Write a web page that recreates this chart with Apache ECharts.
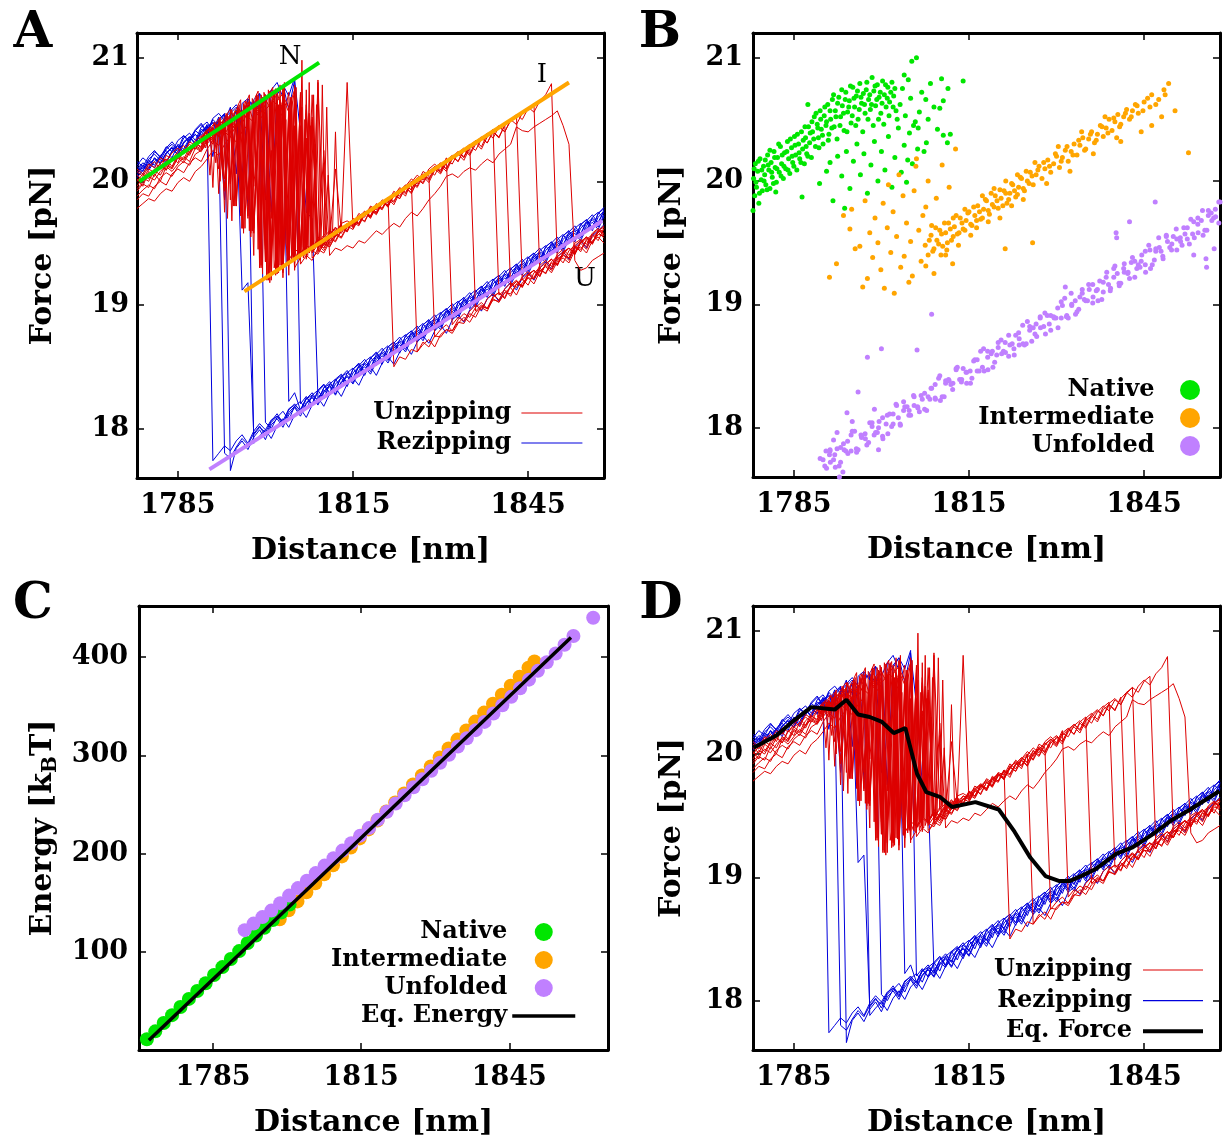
<!DOCTYPE html>
<html><head><meta charset="utf-8">
<script src="https://cdn.jsdelivr.net/npm/echarts@6/dist/echarts.min.js"></script>
<style>html,body{margin:0;padding:0;background:#fff}#c{width:1224px;height:1141px}</style>
</head><body><div id="c"></div>
<script>
// ---------- DATA ----------
const distGrid = [1778,1779,1780,1781,1782,1783,1784,1785,1786,1787,1788,1789,1790,1791,1792,1793,1794,1795,1796,1797,1798,1799,1800,1801,1802,1803,1804,1805,1806,1807,1808,1809,1810,1811,1812,1813,1814,1815,1816,1817,1818,1819,1820,1821,1822,1823,1824,1825,1826,1827,1828,1829,1830,1831,1832,1833,1834,1835,1836,1837,1838,1839,1840,1841,1842,1843,1844,1845,1846,1847,1848,1849,1850,1851,1852,1853,1854,1855,1856,1857,1858];
const hopGridA = [1789,1789.5,1790,1790.5,1791,1791.5,1792,1792.5,1793,1793.5,1794,1794.5,1795,1795.5,1796,1796.5,1797,1797.5,1798,1798.5,1799,1799.5,1800,1800.5,1801,1801.5,1802,1802.5,1803,1803.5,1804,1804.5,1805,1805.5,1806,1806.5,1807,1807.5,1808,1808.5,1809,1809.5,1810,1810.5,1811,1811.5,1812,1812.5,1813];
const hopGridB = [1789.25,1789.75,1790.25,1790.75,1791.25,1791.75,1792.25,1792.75,1793.25,1793.75,1794.25,1794.75,1795.25,1795.75,1796.25,1796.75,1797.25,1797.75,1798.25,1798.75,1799.25,1799.75,1800.25,1800.75,1801.25,1801.75,1802.25,1802.75,1803.25,1803.75,1804.25,1804.75,1805.25,1805.75,1806.25,1806.75,1807.25,1807.75,1808.25,1808.75,1809.25,1809.75,1810.25,1810.75,1811.25,1811.75,1812.25,1812.75,1813.25];
const xTicks = [1785,1815,1845];
const forceTicks = [18,19,20,21];
const energyTicks = [100,200,300,400];

// unzipping (red) traces, force [pN] on distGrid
const unzip01 = [20.02,19.96,20.08,20.04,20.13,20.09,20.19,20.15,20.26,20.21,20.31,20.27,20.38,20.30,20.45,19.95,20.49,20.40,19.75,20.55,19.62,20.60,19.35,20.25,19.30,20.70,19.36,19.45,19.42,19.48,19.44,19.53,19.50,19.58,19.55,19.63,19.60,19.70,19.66,19.75,19.72,19.81,19.78,19.87,18.50,18.58,18.56,18.64,18.62,18.70,18.66,18.75,18.74,18.80,18.79,18.86,18.85,18.93,18.90,18.99,18.97,19.04,19.03,19.10,19.09,19.17,19.15,19.22,19.21,19.28,19.26,19.34,19.33,19.40,19.38,19.46,19.45,19.52,19.50,19.57,19.56];
const unzip02 = [19.92,19.98,19.95,20.06,20.00,20.12,20.08,20.14,20.20,20.16,20.27,20.24,20.33,20.41,20.36,20.44,20.05,20.47,20.52,19.85,20.57,20.60,19.55,20.66,20.62,19.28,20.45,20.74,19.40,20.30,19.45,19.52,19.48,19.57,19.62,19.58,19.66,19.64,19.72,19.75,19.70,19.80,19.84,19.79,19.90,19.93,19.88,20.00,18.62,18.68,18.72,18.66,18.76,18.80,18.77,18.85,18.90,18.86,18.94,18.98,18.95,19.05,19.02,19.10,19.14,19.08,19.18,19.22,19.17,19.27,19.31,19.26,19.35,19.38,19.34,19.44,19.47,19.42,19.52,19.55,19.50];
const unzip03 = [20.05,20.01,20.10,20.07,20.15,20.18,20.12,20.22,20.25,20.30,20.26,20.35,20.40,20.34,20.46,20.50,20.41,19.88,20.56,20.50,19.58,20.63,20.68,19.20,20.72,20.55,19.32,20.78,19.45,20.62,19.50,20.80,19.55,19.60,19.57,19.66,19.68,19.65,19.74,19.71,19.80,19.77,19.85,19.83,19.92,19.88,19.96,20.02,19.98,20.08,20.05,18.74,18.80,18.84,18.79,18.88,18.93,18.90,18.98,19.02,18.97,19.07,19.10,19.06,19.16,19.20,19.15,19.25,19.28,19.24,19.33,19.37,19.32,19.43,19.46,19.41,19.50,19.54,19.49,19.59,19.61];
const unzip04 = [19.96,20.03,20.00,20.09,20.05,20.14,20.11,20.20,20.17,20.24,20.29,20.26,20.35,20.43,20.39,19.92,20.47,20.53,20.44,19.70,20.58,20.52,19.45,20.64,19.25,20.69,20.60,19.38,20.66,19.42,20.50,19.48,19.44,19.52,20.10,19.60,20.80,19.62,19.70,19.68,19.77,19.74,19.83,19.80,19.88,19.95,19.91,19.99,20.05,20.01,20.10,20.14,20.09,20.19,18.84,18.90,18.87,18.95,19.00,18.96,19.05,19.09,19.04,19.13,19.18,19.14,19.23,19.27,19.22,19.32,19.36,19.31,19.41,19.45,19.40,19.50,19.53,19.49,19.58,19.62,19.57];
const unzip05 = [20.08,20.04,20.12,20.16,20.10,20.21,20.18,20.24,20.29,20.23,20.33,20.37,20.31,20.44,20.10,20.48,20.54,19.80,20.57,20.62,20.48,19.50,20.66,20.58,19.30,20.75,19.35,20.40,19.40,19.47,20.70,19.50,19.46,19.55,19.52,19.61,19.66,19.63,19.71,19.76,19.72,19.82,19.78,19.87,19.84,19.92,19.97,19.93,20.03,19.99,20.08,20.12,20.07,20.17,20.21,20.16,20.26,20.30,18.95,19.00,18.97,19.06,19.10,19.05,19.15,19.19,19.14,19.24,19.28,19.23,19.33,19.37,19.32,19.42,19.46,19.41,19.51,19.55,19.50,19.60,19.63];
const unzip06 = [19.88,19.93,19.97,19.94,20.03,20.07,20.04,20.12,20.16,20.13,20.22,20.25,20.30,20.37,20.42,20.38,20.46,20.42,19.95,20.53,19.68,20.59,20.55,19.40,20.62,19.22,20.50,19.30,19.38,20.35,19.42,19.49,19.46,19.54,19.51,19.60,19.63,19.69,19.66,19.74,19.79,19.75,19.84,19.81,19.90,19.86,19.95,20.00,19.96,20.06,20.02,20.11,20.15,20.10,20.20,20.24,20.19,20.29,20.33,20.28,20.38,20.42,19.08,19.12,19.07,19.17,19.21,19.16,19.26,19.30,19.25,19.35,19.39,19.34,19.44,19.48,19.43,19.53,19.57,19.52,19.62];
const unzip07 = [20.10,20.06,20.14,20.11,20.19,20.16,20.23,20.27,20.22,20.32,20.29,20.36,20.42,20.38,20.47,20.02,20.50,20.45,20.55,19.72,20.60,20.56,19.48,20.64,20.70,19.26,20.58,19.34,20.68,19.40,19.36,19.46,19.50,19.47,19.56,19.62,19.59,19.68,19.72,19.67,19.77,19.73,19.82,19.86,19.81,19.91,19.95,19.90,20.00,20.04,19.99,20.09,20.13,20.08,20.18,20.22,20.17,20.27,20.31,20.26,20.36,20.40,20.35,20.46,19.14,19.19,19.15,19.24,19.28,19.23,19.33,19.37,19.32,19.42,19.46,19.41,19.51,19.55,19.50,19.60,19.58];
const unzip08 = [19.85,19.90,19.88,19.96,20.00,19.97,20.06,20.10,20.07,20.15,20.19,20.16,20.26,20.33,20.29,20.40,20.36,20.46,20.00,20.52,20.48,19.60,20.58,20.63,19.35,20.67,20.56,19.28,20.72,19.37,20.48,19.43,19.52,19.49,19.58,19.55,19.64,19.61,19.70,19.75,19.71,19.80,19.77,19.86,19.83,19.92,19.97,19.93,20.02,19.98,20.07,20.12,20.08,20.17,20.14,20.23,20.27,20.22,20.32,20.36,20.31,20.41,20.45,20.40,20.50,20.54,19.20,19.25,19.21,19.30,19.34,19.29,19.39,19.43,19.38,19.48,19.52,19.47,19.57,19.61,19.56];
const unzip09 = [20.00,20.06,20.02,20.10,20.14,20.09,20.18,20.22,20.18,20.27,20.31,20.28,20.37,20.33,20.42,20.48,19.98,20.51,20.47,20.56,19.66,20.61,20.57,19.42,20.65,20.71,19.24,20.62,19.33,19.40,20.52,19.45,19.42,19.51,19.57,19.54,19.63,19.67,19.64,19.73,19.78,19.74,19.83,19.80,19.89,19.94,19.90,19.99,19.95,20.04,20.09,20.05,20.14,20.10,20.19,20.24,20.20,20.29,20.25,20.34,20.39,20.35,20.44,20.40,20.49,20.54,20.50,20.59,20.63,19.27,19.32,19.28,19.37,19.41,19.36,19.46,19.50,19.45,19.55,19.59,19.54];
const unzip10 = [19.94,19.99,20.04,20.01,20.08,20.13,20.10,20.19,20.15,20.23,20.28,20.25,20.34,20.40,20.37,20.45,20.50,20.43,20.53,19.90,20.58,20.54,20.62,19.50,20.66,19.32,20.60,20.74,19.36,20.55,19.44,19.41,19.50,19.47,19.56,19.63,19.60,19.69,19.65,19.74,19.71,19.79,19.84,19.80,19.89,19.86,19.95,19.91,20.00,20.05,20.01,20.10,20.06,20.15,20.20,20.16,20.25,20.21,20.30,20.35,20.31,20.40,20.36,20.45,20.50,20.46,20.55,20.60,20.56,20.65,20.70,20.79,19.36,19.41,19.46,19.42,19.51,19.55,19.50,19.60,19.64];
const unzip11 = [19.78,19.82,19.86,19.84,19.90,19.94,19.92,19.99,20.03,20.00,20.08,20.12,20.18,20.25,20.21,20.30,20.36,20.32,20.40,20.46,19.96,20.50,20.56,19.70,20.60,20.52,19.45,20.65,19.40,20.58,19.38,19.43,20.25,19.40,19.46,19.44,19.48,19.46,19.52,19.50,19.55,19.60,19.57,19.62,19.66,19.63,19.70,19.75,19.72,19.78,19.85,19.90,19.96,20.04,20.06,20.03,20.08,20.11,20.09,20.14,20.18,20.15,20.22,20.26,20.30,20.44,20.41,20.40,20.44,20.47,20.50,20.53,20.57,20.45,20.30,19.36,19.28,19.30,19.36,19.39,19.42];

// finely sampled unzipping hopping segments, force [pN]; hop01-03 on hopGridA, hop04-06 on hopGridB
const hop01 = [20.30,20.38,20.34,20.05,20.42,20.40,19.90,20.45,20.48,19.70,20.52,20.35,19.80,20.58,20.55,19.62,20.60,20.10,19.40,20.66,20.62,19.25,20.70,19.80,19.28,20.72,20.40,19.32,20.76,19.50,19.35,20.68,19.38,20.20,19.40,19.45,20.74,19.42,19.50,20.30,19.47,19.52,19.55,20.60,19.53,19.58,19.56,19.62,19.60];
const hop02 = [20.36,20.32,20.41,20.44,19.95,20.47,20.50,20.42,19.75,20.55,20.58,19.80,20.40,20.62,19.62,20.65,20.58,19.55,20.50,20.70,19.38,20.68,19.35,20.74,20.60,19.30,19.45,20.78,19.36,20.50,19.40,20.65,19.44,19.38,20.45,19.47,19.43,20.80,19.50,19.48,19.55,19.52,20.15,19.57,19.55,19.60,19.63,19.59,19.66];
const hop03 = [20.28,20.35,20.31,20.40,20.37,20.15,20.45,20.48,20.40,20.52,19.85,20.55,20.57,20.50,19.62,20.60,20.64,19.58,20.58,20.67,19.30,20.62,20.70,19.20,20.55,20.74,19.28,20.66,19.33,20.60,20.72,19.36,20.45,19.40,20.70,19.38,19.46,20.55,19.44,19.50,20.82,19.52,19.49,19.56,19.54,19.60,20.40,19.62,19.65];
const hop04 = [20.34,20.40,20.36,20.44,20.47,20.41,20.00,20.50,20.53,20.46,19.68,20.57,20.60,19.75,20.63,20.55,19.60,20.67,20.60,19.45,20.70,20.10,19.22,20.73,20.65,19.30,20.58,19.35,20.77,19.40,20.35,19.38,20.62,19.45,19.41,20.50,19.48,19.46,20.70,19.52,19.49,19.55,19.58,20.05,19.57,19.61,19.59,19.64,19.62];
const hop05 = [20.31,20.27,20.38,20.42,20.36,20.46,20.40,20.49,19.95,20.52,20.56,20.48,20.59,19.72,20.62,20.57,20.66,19.60,20.60,20.69,19.32,20.72,20.64,19.18,20.68,20.75,19.26,20.62,20.70,19.34,20.55,19.40,20.76,19.37,20.60,19.43,19.40,20.45,19.47,19.52,19.48,20.78,19.53,19.56,19.54,19.59,19.62,19.58,19.64];
const hop06 = [20.38,20.33,20.43,20.39,20.48,20.44,20.52,20.10,20.55,20.50,20.58,19.80,20.61,20.66,19.58,20.64,20.70,19.60,20.68,20.73,19.30,20.66,19.20,20.71,20.76,19.24,20.62,19.31,20.80,19.35,20.68,19.39,20.52,19.42,20.98,19.45,20.40,19.47,19.44,20.62,19.50,19.47,19.55,19.52,19.58,19.56,19.61,19.59,19.64];

// rezipping (blue) traces, force [pN] on distGrid
const rezip01 = [20.10,20.06,20.14,20.18,20.15,20.23,20.27,20.22,20.32,20.36,20.31,20.42,20.40,17.74,17.80,17.86,17.82,17.90,17.95,17.88,17.98,18.04,17.99,18.07,18.10,18.06,18.16,18.19,18.15,18.24,18.27,18.23,18.33,18.36,18.32,18.42,18.45,18.41,18.50,18.53,18.49,18.58,18.62,18.59,18.67,18.71,18.68,18.76,18.80,18.77,18.85,18.89,18.86,18.94,18.98,18.95,19.03,19.07,19.04,19.12,19.16,19.13,19.21,19.25,19.22,19.30,19.34,19.31,19.39,19.43,19.40,19.48,19.52,19.49,19.57,19.61,19.58,19.66,19.70,19.67,19.75];
const rezip02 = [20.05,20.12,20.09,20.16,20.20,20.14,20.25,20.29,20.24,20.34,20.38,20.33,20.44,20.48,20.40,17.80,17.76,17.85,17.92,17.87,17.96,18.02,17.94,18.05,18.10,18.03,18.13,18.18,18.12,18.21,18.26,18.20,18.30,18.35,18.28,18.38,18.43,18.37,18.47,18.52,18.46,18.56,18.61,18.55,18.65,18.70,18.64,18.74,18.79,18.73,18.83,18.88,18.82,18.92,18.97,18.91,19.01,19.06,19.00,19.10,19.15,19.09,19.19,19.24,19.18,19.28,19.33,19.27,19.37,19.42,19.36,19.46,19.51,19.45,19.55,19.60,19.54,19.64,19.69,19.63,19.73];
const rezip03 = [20.12,20.08,20.17,20.13,20.21,20.25,20.19,20.30,20.26,20.35,20.41,20.37,20.46,20.20,20.50,20.55,17.66,17.84,17.90,17.83,17.93,17.99,17.91,18.03,18.08,18.01,18.11,18.17,18.10,18.20,18.25,18.19,18.29,18.34,18.27,18.37,18.42,18.36,18.46,18.50,18.44,18.54,18.59,18.53,18.63,18.68,18.62,18.72,18.77,18.71,18.81,18.86,18.80,18.90,18.95,18.89,18.99,19.04,18.98,19.08,19.13,19.07,19.17,19.22,19.16,19.26,19.31,19.25,19.35,19.40,19.34,19.44,19.49,19.43,19.53,19.58,19.52,19.62,19.67,19.61,19.72];
const rezip04 = [20.07,20.13,20.10,20.19,20.15,20.22,20.28,20.24,20.31,20.36,20.30,20.40,20.45,20.39,20.50,20.54,20.47,20.58,19.12,19.18,17.95,18.01,17.97,18.06,18.12,18.04,18.15,18.20,18.14,18.24,18.29,18.22,18.33,18.38,18.31,18.42,18.47,18.40,18.51,18.56,18.49,18.60,18.65,18.58,18.69,18.74,18.67,18.78,18.83,18.76,18.87,18.92,18.85,18.96,19.01,18.94,19.05,19.10,19.03,19.14,19.19,19.12,19.23,19.28,19.21,19.32,19.37,19.30,19.41,19.46,19.39,19.50,19.55,19.48,19.59,19.64,19.57,19.68,19.73,19.66,19.77];
const rezip05 = [20.14,20.10,20.18,20.22,20.17,20.26,20.30,20.25,20.35,20.39,20.33,20.44,20.48,20.41,20.52,19.85,20.55,20.60,20.52,20.66,17.88,17.94,17.99,17.92,18.02,18.08,18.01,18.11,18.16,18.09,18.19,18.25,18.18,18.28,18.33,18.26,18.36,18.41,18.35,18.45,18.50,18.43,18.53,18.58,18.52,18.62,18.67,18.60,18.70,18.75,18.69,18.79,18.84,18.77,18.88,18.92,18.86,18.96,19.01,18.95,19.05,19.09,19.03,19.13,19.18,19.12,19.22,19.26,19.20,19.30,19.35,19.29,19.39,19.43,19.37,19.47,19.52,19.46,19.56,19.60,19.65];
const rezip06 = [20.03,20.09,20.15,20.11,20.20,20.16,20.24,20.29,20.23,20.33,20.38,20.32,20.43,20.47,20.40,20.51,20.56,20.49,20.05,20.60,20.64,20.58,18.05,18.00,18.09,18.14,18.07,18.18,18.22,18.15,18.27,18.31,18.24,18.36,18.40,18.33,18.45,18.49,18.42,18.54,18.58,18.51,18.63,18.67,18.60,18.72,18.76,18.69,18.81,18.85,18.78,18.90,18.94,18.87,18.99,19.03,18.96,19.08,19.12,19.05,19.17,19.21,19.14,19.26,19.30,19.23,19.35,19.39,19.32,19.44,19.48,19.41,19.53,19.57,19.50,19.62,19.66,19.59,19.71,19.75,19.70];
const rezip07 = [20.16,20.12,20.20,20.25,20.19,20.28,20.24,20.33,20.37,20.31,20.41,20.46,20.39,20.50,20.45,19.95,20.57,20.62,20.55,19.80,20.66,20.71,20.63,20.74,20.80,20.68,18.22,18.29,18.15,18.25,18.20,18.31,18.36,18.29,18.40,18.44,18.37,18.48,18.53,18.46,18.57,18.62,18.55,18.66,18.70,18.63,18.75,18.79,18.72,18.84,18.88,18.81,18.93,18.97,18.90,19.02,19.06,18.99,19.11,19.15,19.08,19.20,19.24,19.17,19.29,19.33,19.26,19.38,19.42,19.35,19.47,19.51,19.44,19.56,19.60,19.53,19.65,19.69,19.62,19.74,19.78];
const rezip08 = [20.09,20.15,20.11,20.19,20.14,20.23,20.27,20.21,20.31,20.36,20.30,20.40,20.44,20.38,20.48,20.53,20.46,20.57,19.90,20.61,20.65,20.58,20.70,19.75,20.72,20.78,20.69,20.84,18.20,18.26,18.19,18.30,18.35,18.28,18.39,18.43,18.36,18.48,18.52,18.45,18.57,18.61,18.54,18.66,18.70,18.63,18.75,18.79,18.72,18.84,18.88,18.81,18.93,18.97,18.90,19.02,19.06,18.99,19.11,19.15,19.08,19.20,19.24,19.17,19.29,19.33,19.26,19.38,19.42,19.35,19.47,19.51,19.44,19.56,19.60,19.53,19.65,19.69,19.62,19.74,19.79];
const rezip09 = [20.13,20.19,20.15,20.24,20.20,20.27,20.32,20.26,20.37,20.33,20.42,20.47,20.40,20.51,20.55,20.49,20.60,20.06,20.63,20.67,20.60,20.71,19.85,20.74,20.70,20.78,20.58,20.82,20.40,19.75,19.70,18.25,18.31,18.27,18.36,18.41,18.34,18.45,18.50,18.43,18.54,18.59,18.52,18.63,18.68,18.61,18.72,18.77,18.70,18.81,18.86,18.79,18.90,18.95,18.88,18.99,19.04,18.97,19.08,19.13,19.06,19.17,19.22,19.15,19.26,19.31,19.24,19.35,19.40,19.33,19.44,19.49,19.42,19.53,19.58,19.51,19.62,19.67,19.60,19.71,19.76];

// fitted branches in panel A (distance, force)
const nativeFitX = [1778.4, 1809.2], nativeFitF = [20.00, 20.96];
const interFitX  = [1796.4, 1852.0], interFitF  = [19.11, 20.80];
const unfoldFitX = [1790.4, 1857.7], unfoldFitF = [17.67, 19.68];

// panel B classified points [distance, force]
const nativePts = [[1778.1,20.02],[1778.3,19.88],[1778.4,20.14],[1778.6,19.95],[1778.8,20.08],[1779.0,19.82],[1779.2,20.18],[1779.4,20.01],[1779.6,19.92],[1779.8,20.12],[1780.0,20.05],[1780.2,19.97],[1780.5,20.21],[1780.7,20.09],[1780.9,19.94],[1781.1,20.15],[1781.3,20.03],[1781.6,20.24],[1781.8,20.11],[1782.0,19.99],[1782.2,20.19],[1782.5,20.07],[1782.7,20.28],[1782.9,20.14],[1783.2,20.02],[1783.4,20.23],[1783.6,20.10],[1783.9,20.32],[1784.1,20.18],[1784.3,20.06],[1784.6,20.27],[1784.8,20.15],[1785.1,20.36],[1785.3,20.21],[1785.5,20.09],[1785.8,20.30],[1786.0,20.18],[1786.3,20.40],[1786.5,20.26],[1786.8,20.14],[1787.0,20.35],[1787.2,20.22],[1787.5,20.44],[1787.7,20.31],[1788.0,20.19],
[1788.2,20.40],[1788.5,20.52],[1788.7,20.28],[1789.0,20.46],[1789.2,20.35],[1789.5,20.57],[1789.7,20.42],[1790.0,20.30],[1790.2,20.53],[1790.5,20.45],[1790.8,20.62],[1791.0,20.38],[1791.3,20.50],[1791.6,20.66],[1791.9,20.44],[1792.1,20.57],[1792.4,20.34],[1792.7,20.68],[1793.0,20.52],[1793.3,20.61],[1793.6,20.41],[1793.9,20.72],[1794.2,20.56],[1794.5,20.65],[1794.8,20.47],[1795.1,20.76],[1795.4,20.60],[1795.7,20.69],[1796.0,20.50],[1796.3,20.79],[1796.6,20.63],[1796.9,20.71],[1797.2,20.55],[1797.5,20.80],[1797.8,20.66],[1798.1,20.58],[1798.4,20.84],[1798.7,20.73],[1799.0,20.61],[1799.3,20.78],[1799.6,20.68],[1799.9,20.55],[1800.2,20.81],[1800.5,20.70],[1800.8,20.60],[1801.1,20.76],[1801.4,20.64],[1801.8,20.80],[1802.1,20.69],[1802.5,20.57],
[1778.2,20.10],[1778.5,19.99],[1778.9,20.16],[1779.1,19.90],[1779.5,20.09],[1779.9,20.00],[1780.1,20.17],[1780.4,19.93],[1780.6,20.13],[1780.9,20.25],[1781.2,20.07],[1781.5,19.98],[1781.7,20.19],[1782.1,20.10],[1782.4,20.30],[1782.8,20.04],[1783.0,20.21],[1783.3,20.12],[1783.8,20.24],[1784.0,20.09],[1784.4,20.34],[1784.7,20.20],[1785.0,20.12],[1785.2,20.29],[1785.6,20.38],[1785.9,20.23],[1786.2,20.15],[1786.6,20.33],[1786.9,20.44],[1787.1,20.28],[1787.4,20.20],[1787.8,20.39],[1788.1,20.48],[1788.4,20.34],[1788.8,20.55],[1789.1,20.43],[1789.3,20.27],[1789.6,20.50],[1789.9,20.37],[1790.3,20.60],[1790.6,20.48],[1790.9,20.33],[1791.2,20.57],[1791.5,20.43],[1791.8,20.70],[1792.2,20.52],[1792.5,20.63],[1792.9,20.45],[1793.2,20.74],[1793.5,20.55],[1793.8,20.66],[1794.1,20.40],[1794.4,20.60],[1794.7,20.77],[1795.0,20.53],[1795.3,20.67],[1795.6,20.45],[1795.9,20.73],[1796.2,20.58],[1796.5,20.68],[1796.8,20.40],[1797.1,20.62],[1797.4,20.74],[1797.7,20.50],[1798.0,20.70],[1798.3,20.62],[1798.6,20.45],[1798.9,20.77],[1799.2,20.66],[1799.5,20.50],[1799.8,20.72],[1800.1,20.63],[1800.4,20.46],[1800.7,20.78],[1801.0,20.67],[1801.3,20.53],[1801.6,20.72],[1802.0,20.60],[1802.3,20.75],[1802.7,20.50],
[1786.4,19.87],[1787.4,20.62],[1781.9,19.91],[1778.0,19.76],[1789.4,19.98],[1790.6,20.08],[1791.2,20.15],[1791.7,19.84],[1792.5,20.20],[1793.2,20.04],[1793.7,19.78],[1794.0,20.24],[1794.6,19.94],[1795.2,20.16],[1795.8,20.30],[1796.4,20.05],[1797.0,20.22],[1797.6,19.90],[1798.2,20.13],[1798.8,20.32],[1799.4,20.00],[1800.0,20.24],[1800.6,20.09],[1801.2,20.36],[1801.8,19.95],[1802.3,20.19],[1802.9,20.43],[1803.4,20.07],[1803.9,20.29],[1804.3,19.99],[1804.5,20.17],[1804.8,20.39],[1805.3,20.14],[1805.8,20.48],[1806.2,20.26],[1807.3,20.24],[1807.7,20.31],
[1803.2,20.62],[1803.6,20.75],[1803.9,20.86],[1804.1,20.53],[1804.6,20.82],[1805.0,20.67],[1805.2,20.97],[1805.5,20.45],[1806.0,21.00],[1806.3,20.43],[1806.5,20.56],[1806.9,20.72],[1807.6,20.66],[1808.0,20.50],[1808.4,20.79],[1809.0,20.60],[1810.0,20.59],[1810.3,20.83],[1810.6,20.65],[1810.6,20.37],[1811.3,20.31],[1811.4,20.75],[1811.8,20.38],[1814.0,20.81],[1809.6,20.42]];
const interPts = [[1791.1,19.22],[1792.3,19.33],[1793.5,19.72],[1794.6,19.61],[1794.9,19.77],[1795.5,19.45],[1796.3,19.47],[1796.8,19.14],[1797.2,19.84],[1797.6,19.21],[1798.0,19.58],[1798.5,19.38],[1798.9,19.70],[1799.4,19.50],[1799.9,19.28],[1800.3,19.82],[1800.5,19.13],[1801.0,19.62],[1801.2,19.97],[1801.6,19.42],[1802.0,19.75],[1802.2,19.09],[1802.6,19.55],[1803.0,20.05],[1803.3,19.30],[1803.7,19.88],[1803.9,19.39],[1804.3,19.66],[1804.7,19.18],[1805.0,19.51],[1805.3,19.23],[1805.6,19.92],[1805.9,20.12],[1806.0,20.18],[1806.4,19.60],[1806.8,19.35],[1807.1,19.72],[1807.6,19.31],[1807.6,19.79],[1808.0,20.00],[1808.6,19.64],[1809.0,19.25],[1809.4,19.86],[1810.4,20.13],[1811.0,19.40],[1811.6,19.95],[1812.7,20.26],[1812.2,19.33],
[1807.5,19.48],[1808.0,19.40],[1808.5,19.56],[1809.0,19.45],[1809.5,19.52],[1810.0,19.60],[1810.5,19.47],[1811.0,19.58],[1811.5,19.66],[1812.0,19.52],[1812.5,19.63],[1813.0,19.57],[1813.5,19.70],[1814.0,19.61],[1814.5,19.68],[1815.0,19.75],[1815.5,19.64],[1816.0,19.72],[1816.5,19.80],[1817.0,19.69],[1817.5,19.77],[1818.0,19.84],[1818.5,19.73],[1819.0,19.81],[1819.5,19.88],[1820.0,19.78],[1820.5,19.86],[1821.0,19.92],[1821.5,19.82],[1822.0,19.90],[1822.5,19.97],[1823.0,19.87],[1823.5,19.95],[1824.0,20.02],[1824.5,19.92],[1825.0,20.00],[1825.5,20.07],[1826.0,19.97],[1826.5,20.05],[1827.0,20.12],[1827.5,20.02],[1828.0,20.10],[1828.5,20.17],[1829.0,20.07],[1829.5,20.14],[1830.0,20.20],[1830.5,20.11],[1831.0,20.19],[1831.5,20.25],[1832.0,20.16],[1832.5,20.24],[1833.0,20.30],[1833.5,20.21],[1834.0,20.29],[1834.5,20.35],[1835.0,20.26],[1835.5,20.34],[1836.0,20.40],[1836.5,20.31],[1837.0,20.38],[1837.5,20.45],[1838.0,20.36],[1838.5,20.43],[1839.0,20.50],[1839.5,20.41],[1840.0,20.48],[1840.5,20.54],[1841.0,20.46],[1841.5,20.52],[1842.0,20.58],[1842.5,20.50],[1843.0,20.57],[1843.5,20.62],[1844.0,20.55],[1845.0,20.64],[1846.0,20.60],[1846.3,20.70],[1847.5,20.66],[1848.4,20.74],[1849.2,20.79],
[1808.2,19.52],[1808.8,19.43],[1809.3,19.62],[1809.8,19.49],[1810.3,19.57],[1810.8,19.66],[1811.3,19.50],[1811.8,19.61],[1812.3,19.55],[1812.8,19.72],[1813.3,19.58],[1813.8,19.66],[1814.3,19.60],[1814.8,19.74],[1815.3,19.65],[1815.8,19.79],[1816.3,19.68],[1816.8,19.75],[1817.3,19.70],[1817.8,19.85],[1818.3,19.76],[1818.8,19.90],[1819.3,19.79],[1819.8,19.84],[1820.3,19.93],[1820.8,19.80],[1821.3,19.90],[1821.8,19.85],[1822.3,19.98],[1822.8,19.92],[1823.3,19.89],[1823.8,20.03],[1824.3,19.94],[1824.8,20.08],[1825.3,19.98],[1825.8,20.04],[1826.8,20.09],[1827.8,20.15],[1828.8,20.12],[1829.8,20.22],[1830.8,20.16],[1831.8,20.28],[1832.8,20.21],[1833.8,20.33],[1834.8,20.25],[1835.8,20.38],[1836.8,20.33],[1837.8,20.44],[1838.8,20.39],[1839.8,20.51],[1840.8,20.44],[1841.8,20.55],[1842.8,20.52],[1843.8,20.61],[1844.8,20.57],[1845.6,20.67],[1847.0,20.62],[1848.6,20.70],
[1810.2,19.40],[1811.2,19.44],[1812.3,19.70],[1813.2,19.48],[1814.3,19.77],[1815.3,19.56],[1816.3,19.62],[1817.3,19.88],[1818.3,19.67],[1819.3,19.94],[1820.3,19.70],[1821.3,20.00],[1822.3,19.80],[1823.3,20.05],[1824.3,19.85],[1826.3,20.15],[1828.3,19.98],[1830.3,20.28],[1832.3,20.08],[1834.3,20.40],[1836.3,20.22],[1838.3,20.52],[1840.3,20.35],
[1825.9,19.50],[1821.2,19.45],[1852.6,20.23],[1850.3,20.57],[1841.0,20.32],[1846.3,20.45],[1844.5,20.40],[1848.0,20.52]];
const unfoldPts = [[1790.0,17.74],[1790.6,17.67],[1791.2,17.82],[1791.8,17.74],[1792.4,17.83],[1793.0,17.72],[1793.6,17.82],[1794.2,17.89],[1794.8,17.81],[1795.4,17.97],[1796.0,17.82],[1796.6,17.93],[1797.2,17.95],[1797.8,17.88],[1798.4,18.04],[1799.0,17.96],[1799.6,18.05],[1800.2,17.93],[1800.8,18.03],[1801.4,18.11],[1802.0,18.03],[1802.6,18.18],[1803.2,18.03],[1803.8,18.14],[1804.4,18.17],[1805.0,18.10],[1805.6,18.25],[1806.2,18.17],[1806.8,18.26],[1807.4,18.15],[1808.0,18.25],[1808.6,18.32],[1809.2,18.24],[1809.8,18.40],[1810.4,18.25],[1811.0,18.36],[1811.6,18.38],[1812.2,18.31],[1812.8,18.47],[1813.4,18.39],[1814.0,18.48],[1814.6,18.36],[1815.2,18.46],[1815.8,18.54],[1816.4,18.46],[1817.0,18.62],[1817.6,18.46],[1818.2,18.57],[1818.8,18.60],[1819.4,18.53],[1820.0,18.69],[1820.6,18.60],[1821.2,18.69],[1821.8,18.58],[1822.4,18.68],[1823.0,18.75],[1823.6,18.67],[1824.2,18.83],[1824.8,18.68],[1825.4,18.79],[1826.0,18.81],[1826.6,18.74],[1827.2,18.90],[1827.8,18.82],[1828.4,18.91],[1829.0,18.79],[1829.6,18.89],[1830.2,18.97],[1830.8,18.89],[1831.4,19.05],[1832.0,18.89],[1832.6,19.00],[1833.2,19.03],[1833.8,18.96],[1834.4,19.12],[1835.0,19.03],[1835.6,19.12],[1836.2,19.01],[1836.8,19.11],[1837.4,19.19],[1838.0,19.10],[1838.6,19.26],[1839.2,19.11],[1839.8,19.22],[1840.4,19.25],[1841.0,19.17],[1841.6,19.33],[1842.2,19.25],[1842.8,19.34],[1843.4,19.22],[1844.0,19.32],[1844.6,19.40],[1845.2,19.32],[1845.8,19.48],[1846.4,19.32],[1847.0,19.43],[1847.6,19.46],[1848.2,19.39],[1848.8,19.55],[1849.4,19.46],[1850.0,19.55],[1850.6,19.44],[1851.2,19.54],[1851.8,19.62],[1852.4,19.53],[1853.0,19.69],[1853.6,19.54],[1854.2,19.65],[1854.8,19.68],[1855.4,19.60],[1856.0,19.76],[1856.6,19.68],[1857.2,19.77],[1857.8,19.66],
[1790.3,17.69],[1791.2,17.81],[1792.1,17.68],[1793.0,17.84],[1793.9,17.81],[1794.8,17.94],[1795.7,17.83],[1796.6,17.92],[1797.5,17.86],[1798.4,18.01],[1799.3,17.96],[1800.2,18.08],[1801.1,17.95],[1802.0,18.11],[1802.9,18.08],[1803.8,18.21],[1804.7,18.10],[1805.6,18.18],[1806.5,18.13],[1807.4,18.28],[1808.3,18.23],[1809.2,18.35],[1810.1,18.22],[1811.0,18.38],[1811.9,18.35],[1812.8,18.48],[1813.7,18.37],[1814.6,18.45],[1815.5,18.40],[1816.4,18.55],[1817.3,18.49],[1818.2,18.62],[1819.1,18.49],[1820.0,18.65],[1820.9,18.62],[1821.8,18.75],[1822.7,18.64],[1823.6,18.72],[1824.5,18.67],[1825.4,18.82],[1826.3,18.76],[1827.2,18.89],[1828.1,18.76],[1829.0,18.91],[1829.9,18.89],[1830.8,19.02],[1831.7,18.90],[1832.6,18.99],[1833.5,18.94],[1834.4,19.09],[1835.3,19.03],[1836.2,19.16],[1837.1,19.03],[1838.0,19.18],[1838.9,19.16],[1839.8,19.29],[1840.7,19.17],[1841.6,19.26],[1842.5,19.21],[1843.4,19.35],[1844.3,19.30],[1845.2,19.43],[1846.1,19.29],[1847.0,19.45],[1847.9,19.43],[1848.8,19.56],[1849.7,19.44],[1850.6,19.53],[1851.5,19.48],[1852.4,19.62],[1853.3,19.57],[1854.2,19.70],[1855.1,19.56],[1856.0,19.72],[1856.9,19.70],[1857.8,19.83],
[1790.5,17.81],[1791.25,17.72],[1792.0,17.78],[1792.75,17.69],[1793.5,17.87],[1794.25,17.79],[1795.0,17.97],[1795.75,17.80],[1796.5,17.94],[1797.25,17.91],[1798.0,18.04],[1798.75,17.94],[1799.5,18.00],[1800.25,17.91],[1801.0,18.10],[1801.75,18.01],[1802.5,18.19],[1803.25,18.02],[1804.0,18.17],[1804.75,18.14],[1805.5,18.26],[1806.25,18.16],[1807.0,18.23],[1807.75,18.14],[1808.5,18.32],[1809.25,18.23],[1810.0,18.42],[1810.75,18.25],[1811.5,18.39],[1812.25,18.36],[1813.0,18.49],[1813.75,18.39],[1814.5,18.45],[1815.25,18.36],[1816.0,18.55],[1816.75,18.46],[1817.5,18.64],[1818.25,18.47],[1819.0,18.62],[1819.75,18.59],[1820.5,18.71],[1821.25,18.61],[1822.0,18.67],[1822.75,18.59],[1823.5,18.77],[1824.25,18.68],[1825.0,18.86],[1825.75,18.70],[1826.5,18.84],[1827.25,18.81],[1828.0,18.93],[1828.75,18.84],[1829.5,18.90],[1830.25,18.81],[1831.0,18.99],[1831.75,18.91],[1832.5,19.09],[1833.25,18.92],[1834.0,19.06],[1834.75,19.04],[1835.5,19.16],[1836.25,19.06],[1837.0,19.12],[1837.75,19.04],[1838.5,19.22],[1839.25,19.13],[1840.0,19.31],[1840.75,19.15],[1841.5,19.29],[1842.25,19.26],[1843.0,19.38],[1843.75,19.29],[1844.5,19.35],[1845.25,19.26],[1846.0,19.44],[1846.75,19.36],[1847.5,19.54],[1848.25,19.37],[1849.0,19.51],[1849.75,19.49],[1850.5,19.61],[1851.25,19.51],[1852.0,19.57],[1852.75,19.49],[1853.5,19.67],[1854.25,19.58],[1855.0,19.76],[1855.75,19.60],[1856.5,19.74],[1857.25,19.71],[1858.0,19.83],
[1789.5,17.75],[1791.1,17.78],[1792.4,17.96],[1793.4,17.64],[1794.1,18.12],[1796.0,18.29],[1797.6,18.57],[1800.0,18.64],[1806.1,18.63],[1808.6,18.92],[1831.5,19.14],[1840.2,19.58],[1840.3,19.54],[1842.5,19.67],[1846.9,19.83],[1855.6,19.37],[1855.7,19.30],[1853.5,19.40],[1857.0,19.45],[1791.8,17.90],[1792.8,17.60],[1795.0,18.05],[1798.8,18.15],[1799.5,17.82]];

// panel C energies [kBT]
const nativeEX = [1771.6,1773.3,1775.0,1776.7,1778.4,1780.1,1781.8,1783.5,1785.2,1786.9,1788.6,1790.3,1792.0,1793.7,1795.4,1797.1,1798.8,1800.5];
const nativeE  = [11,19,27.5,35.5,43.7,52,60,68,76.3,84.4,92.6,100.7,108.9,116.5,124.5,132.4,140,148];
const interEX = [1798.5,1800.3,1802.1,1803.9,1805.7,1807.5,1809.3,1811.1,1812.9,1814.7,1816.5,1818.3,1820.1,1821.9,1823.7,1825.5,1827.3,1829.1,1830.9,1832.7,1834.5,1836.3,1838.1,1839.9,1841.7,1843.5,1845.3,1847.1,1848.9,1850.1];
const interE  = [133.1,142.2,151.3,160.6,169.7,178.8,188.0,197.1,206.2,215.4,224.6,233.7,242.8,252.0,261.1,270.3,279.5,288.6,297.7,306.9,316.0,325.2,334.3,343.5,352.6,361.7,370.9,380.1,389.2,395.5];
const unfoldEX = [1791.4,1793.2,1795.0,1796.8,1798.6,1800.4,1802.2,1804.0,1805.8,1807.6,1809.4,1811.2,1813.0,1814.8,1816.6,1818.4,1820.2,1822.0,1823.8,1825.6,1827.4,1829.2,1831.0,1832.8,1834.6,1836.4,1838.2,1840.0,1841.8,1843.6,1845.4,1847.2,1849.0,1850.8,1852.6,1854.4,1856.2,1858.0,1862.0];
const unfoldE  = [122,128.7,135.3,141.9,149.5,157.2,164.8,172.4,180.1,187.7,195.3,203,210.6,218.2,225.9,234.5,242.6,251,259.4,267.5,275.6,284.3,292.4,300.5,309,317.3,325.6,334,342.5,351,359.5,368.2,377,386,394.8,403.6,412.5,421.5,440];
const eqEnergyX = [1772,1790,1810,1830,1857.5];
const eqEnergy  = [10,96,192,288,420];

// panel D equilibrium force
const eqForceX = [1778.1,1782.0,1784.7,1788.0,1792.0,1794.0,1796.0,1798.0,1800.1,1802.1,1804.1,1806.1,1807.7,1810.1,1812.1,1816.1,1820.1,1822.8,1825.5,1828.1,1830.5,1832.2,1834.2,1836.8,1840.2,1842.9,1846.2,1849.6,1852.9,1857.9];
const eqForce  = [20.05,20.15,20.26,20.38,20.36,20.44,20.32,20.30,20.26,20.17,20.21,19.84,19.69,19.65,19.57,19.61,19.55,19.37,19.16,19.01,18.97,18.97,19.01,19.07,19.19,19.24,19.34,19.46,19.55,19.70];

// ---------- BUILD ----------
const FONT = '"DejaVu Serif"';
const RED = '#dd0000', BLUE = '#0000dd', GREEN = '#00e600', ORANGE = '#ffa500', PURPLE = '#c080ff';
const tickFont = {fontFamily: FONT, fontSize: 27, fontWeight: 'bold', color: '#000'};
const nameFont = {fontFamily: FONT, fontSize: 30, fontWeight: 'bold', color: '#000'};
const zip = (xs, ys) => xs.map((x, i) => [x, ys[i]]);
const onGrid = (grid, ys) => ys.map((y, i) => [grid[i], y]);

const xAxes = [], yAxes = [];
function addAxes(g, o) {
  const line = {show: true, onZero: false, lineStyle: {color: '#000', width: 3}};
  const tick = v => ({show: true, inside: true, length: 7, customValues: v, lineStyle: {color: '#000', width: 1.5}});
  const base = {gridIndex: g, type: 'value', splitLine: {show: false}, axisLine: line};
  xAxes.push(Object.assign({}, base, {position: 'bottom', min: o.xmin, max: o.xmax, axisTick: tick(xTicks),
    axisLabel: Object.assign({customValues: xTicks, margin: 14, formatter: v => String(v)}, tickFont),
    name: 'Distance [nm]', nameLocation: 'middle', nameGap: 58, nameTextStyle: nameFont}));
  xAxes.push(Object.assign({}, base, {position: 'top', min: o.xmin, max: o.xmax, axisTick: tick(xTicks), axisLabel: {show: false}}));
  yAxes.push(Object.assign({}, base, {position: 'left', min: o.ymin, max: o.ymax, axisTick: tick(o.yticks),
    axisLabel: Object.assign({customValues: o.yticks, margin: o.ymargin, formatter: v => String(v)}, tickFont),
    name: o.yname, nameLocation: 'middle', nameGap: o.ynameGap, nameTextStyle: o.ynameStyle || nameFont}));
  yAxes.push(Object.assign({}, base, {position: 'right', min: o.ymin, max: o.ymax, axisTick: tick(o.yticks), axisLabel: {show: false}}));
}
addAxes(0, {xmin: 1778, xmax: 1858, ymin: 17.6, ymax: 21.2, yticks: forceTicks, ymargin: 8, yname: 'Force [pN]', ynameGap: 79});
addAxes(1, {xmin: 1778, xmax: 1858, ymin: 17.6, ymax: 21.2, yticks: forceTicks, ymargin: 10, yname: 'Force [pN]', ynameGap: 66});
addAxes(2, {xmin: 1770, xmax: 1865, ymin: 0, ymax: 452, yticks: energyTicks, ymargin: 11,
  yname: '{a|Energy [k}{s|B}{a|T]}', ynameGap: 78,
  ynameStyle: {rich: {a: {fontFamily: FONT, fontSize: 30, fontWeight: 'bold', color: '#000', lineHeight: 36},
                      s: {fontFamily: FONT, fontSize: 20, fontWeight: 'bold', color: '#000', lineHeight: 20, verticalAlign: 'bottom'}}}});
addAxes(3, {xmin: 1778, xmax: 1858, ymin: 17.6, ymax: 21.2, yticks: forceTicks, ymargin: 10, yname: 'Force [pN]', ynameGap: 66});

const series = [];
function lineSeries(name, g, data, color, width) {
  series.push({type: 'line', name: name, xAxisIndex: 2 * g, yAxisIndex: 2 * g, data: data, symbol: 'none', silent: true,
    lineStyle: {color: color, width: width}, itemStyle: {color: color}});
}
function traces(g) {
  [rezip01, rezip02, rezip03, rezip04, rezip05, rezip06, rezip07, rezip08, rezip09].forEach(t => lineSeries('Rezipping', g, onGrid(distGrid, t), BLUE, 1));
  [unzip01, unzip02, unzip03, unzip04, unzip05, unzip06, unzip07, unzip08, unzip09, unzip10, unzip11].forEach(t => lineSeries('Unzipping', g, onGrid(distGrid, t), RED, 1));
  [hop01, hop02, hop03].forEach(t => lineSeries('Unzipping', g, onGrid(hopGridA, t), RED, 1));
  [hop04, hop05, hop06].forEach(t => lineSeries('Unzipping', g, onGrid(hopGridB, t), RED, 1));
}
// Panel A
traces(0);
lineSeries('N branch', 0, zip(nativeFitX, nativeFitF), GREEN, 4);
lineSeries('I branch', 0, zip(interFitX, interFitF), ORANGE, 4);
lineSeries('U branch', 0, zip(unfoldFitX, unfoldFitF), PURPLE, 4);
// Panel B
[['Native', nativePts, GREEN], ['Intermediate', interPts, ORANGE], ['Unfolded', unfoldPts, PURPLE]].forEach(s => series.push({
  type: 'scatter', name: s[0], xAxisIndex: 2, yAxisIndex: 2, data: s[1], symbol: 'circle', symbolSize: 5, silent: true,
  itemStyle: {color: s[2], opacity: 1}}));
// Panel C
[['Intermediate', interEX, interE, ORANGE], ['Native', nativeEX, nativeE, GREEN], ['Unfolded', unfoldEX, unfoldE, PURPLE]].forEach(s => series.push({
  type: 'scatter', name: s[0], xAxisIndex: 4, yAxisIndex: 4, data: zip(s[1], s[2]), symbol: 'circle', symbolSize: 14, silent: true,
  itemStyle: {color: s[3], opacity: 1}}));
lineSeries('Eq. Energy', 2, zip(eqEnergyX, eqEnergy), '#000', 3.5);
// Panel D
traces(3);
lineSeries('Eq. Force', 3, zip(eqForceX, eqForce), '#000', 4);

const legendText = {fontFamily: FONT, fontSize: 24, fontWeight: 'bold', color: '#000', lineHeight: 24};
const leg = (o) => Object.assign({orient: 'vertical', align: 'right', padding: 0, selectedMode: false}, o);
const lineItem = (name, w) => ({name: name, itemStyle: {opacity: 0}, lineStyle: {width: w}});

const txt = (s, x, y, font) => ({type: 'text', x: x, y: y, silent: true,
  style: {text: s, font: font, fill: '#000', align: 'center', verticalAlign: 'middle', textAlign: 'center', textVerticalAlign: 'middle'}});

const option = {
  animation: false,
  backgroundColor: '#fff',
  grid: [
    {left: 137, top: 33, width: 467, height: 445},
    {left: 753, top: 33, width: 467, height: 444},
    {left: 139, top: 606, width: 469, height: 444},
    {left: 753, top: 606, width: 467, height: 444}
  ],
  xAxis: xAxes,
  yAxis: yAxes,
  legend: [
    leg({right: 641, top: 401, itemWidth: 61, itemHeight: 2, itemGap: 6, textStyle: Object.assign({padding: [0, 5, 0, 0]}, legendText),
      data: [lineItem('Unzipping', 1.2), lineItem('Rezipping', 1.2)]}),
    leg({right: 24, top: 378, itemWidth: 61, itemHeight: 20, itemGap: 4, textStyle: legendText, data: ['Native', 'Intermediate', 'Unfolded']}),
    leg({right: 647, top: 920, itemWidth: 63, itemHeight: 18, itemGap: 4, textStyle: legendText,
      data: ['Native', 'Intermediate', 'Unfolded', lineItem('Eq. Energy', 3.5)]}),
    leg({right: 19, top: 958, itemWidth: 60, itemHeight: 2, itemGap: 6.6, textStyle: Object.assign({padding: [0, 6, 0, 0]}, legendText),
      data: [lineItem('Unzipping', 1.2), lineItem('Rezipping', 1.2), lineItem('Eq. Force', 4)]})
  ],
  graphic: [
    txt('A', 33, 34, 'bold 50px "DejaVu Serif"'),
    txt('B', 660, 34, 'bold 50px "DejaVu Serif"'),
    txt('C', 33, 605, 'bold 50px "DejaVu Serif"'),
    txt('D', 661, 605, 'bold 50px "DejaVu Serif"'),
    txt('N', 290, 57, '26px "DejaVu Serif"'),
    txt('I', 542, 75, '26px "DejaVu Serif"'),
    txt('U', 585, 279, '26px "DejaVu Serif"')
  ],
  series: series
};
const chart = echarts.init(document.getElementById('c'), null, {renderer: 'canvas'});
chart.setOption(option);
</script>
</body></html>
